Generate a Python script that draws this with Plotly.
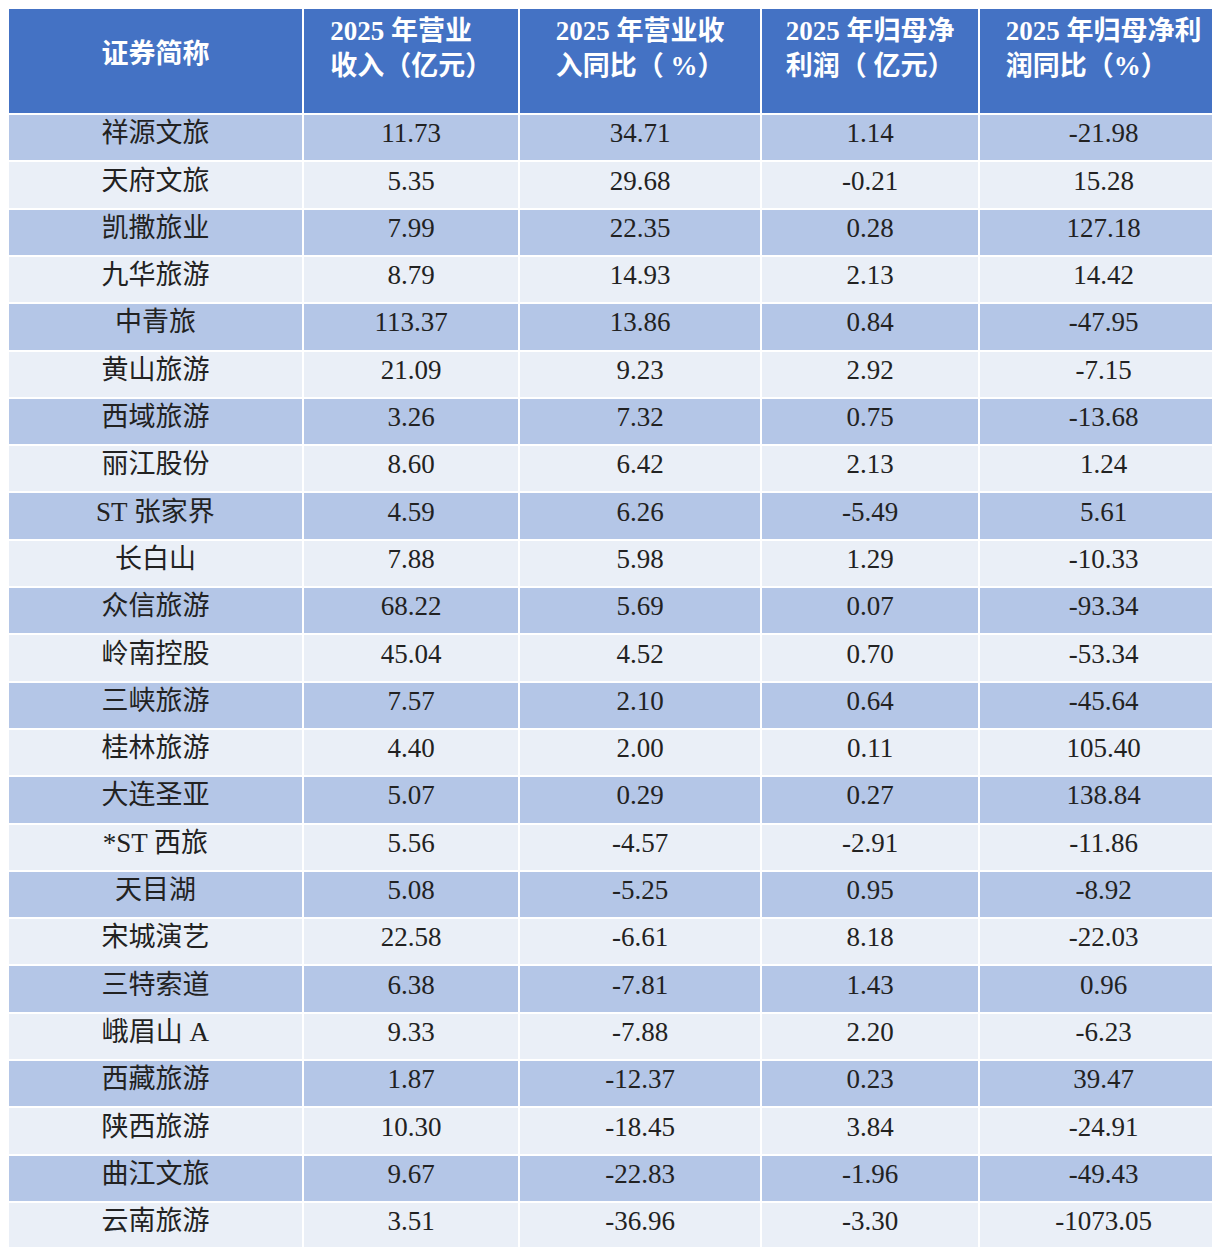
import plotly.graph_objects as go

names = ["祥源文旅", "天府文旅", "凯撒旅业", "九华旅游", "中青旅", "黄山旅游", "西域旅游", "丽江股份",
         "ST 张家界", "长白山", "众信旅游", "岭南控股", "三峡旅游", "桂林旅游", "大连圣亚", "*ST 西旅",
         "天目湖", "宋城演艺", "三特索道", "峨眉山 A", "西藏旅游", "陕西旅游", "曲江文旅", "云南旅游"]
revenue = ["11.73", "5.35", "7.99", "8.79", "113.37", "21.09", "3.26", "8.60", "4.59", "7.88", "68.22", "45.04",
           "7.57", "4.40", "5.07", "5.56", "5.08", "22.58", "6.38", "9.33", "1.87", "10.30", "9.67", "3.51"]
revenue_yoy = ["34.71", "29.68", "22.35", "14.93", "13.86", "9.23", "7.32", "6.42", "6.26", "5.98", "5.69", "4.52",
               "2.10", "2.00", "0.29", "-4.57", "-5.25", "-6.61", "-7.81", "-7.88", "-12.37", "-18.45", "-22.83", "-36.96"]
profit = ["1.14", "-0.21", "0.28", "2.13", "0.84", "2.92", "0.75", "2.13", "-5.49", "1.29", "0.07", "0.70",
          "0.64", "0.11", "0.27", "-2.91", "0.95", "8.18", "1.43", "2.20", "0.23", "3.84", "-1.96", "-3.30"]
profit_yoy = ["-21.98", "15.28", "127.18", "14.42", "-47.95", "-7.15", "-13.68", "1.24", "5.61", "-10.33", "-93.34", "-53.34",
              "-45.64", "105.40", "138.84", "-11.86", "-8.92", "-22.03", "0.96", "-6.23", "39.47", "-24.91", "-49.43", "-1073.05"]
headers = ["<span style='font-size:14px'> </span><br>证券简称", "2025 年营业<br>收入（亿元）", "2025 年营业收<br>入同比（ %）",
           "2025 年归母净<br>利润（ 亿元）", "2025 年归母净利<br>润同比（%）"]

fills = ["#B4C6E7" if i % 2 == 0 else "#EAEFF7" for i in range(len(names))]
font_family = "Liberation Serif, Noto Sans CJK SC"

fig = go.Figure(go.Table(
    columnwidth=[293, 215, 240, 217, 247],
    header=dict(values=["<b>%s</b>" % h for h in headers],
                fill_color="#4472C4", line_color="white", line_width=2,
                font=dict(color="white", size=27, family=font_family),
                align="center", height=106),
    cells=dict(values=[names, revenue, revenue_yoy, profit, profit_yoy],
               fill_color=[fills] * 5, line_color="white", line_width=2,
               font=dict(color="#222222", size=27, family=font_family),
               align="center", height=47.3),
    domain=dict(x=[0, 1], y=[0, 1]),
))
fig.update_layout(width=1220, height=1247, margin=dict(l=0, r=0, t=0, b=0),
                  paper_bgcolor="white")
fig.write_html("out.html")
